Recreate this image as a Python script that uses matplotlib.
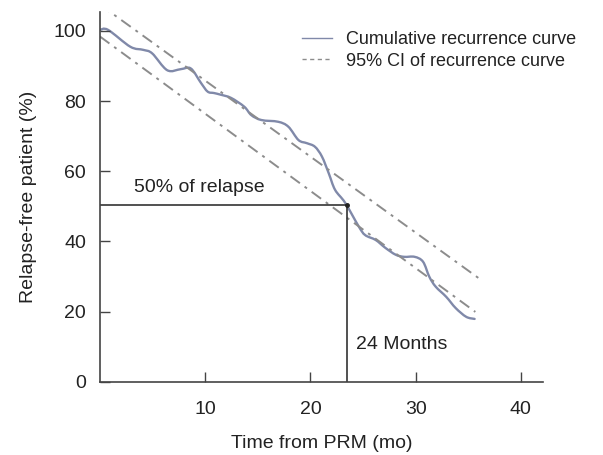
import matplotlib
matplotlib.use("Agg")
import matplotlib.pyplot as plt
from matplotlib.path import Path
from matplotlib.patches import PathPatch
from matplotlib.lines import Line2D

plt.rcParams['font.family'] = ['Liberation Sans', 'DejaVu Sans']

# Cumulative recurrence curve
curve_x = [0, 0.77, 2.88, 4.12, 4.96, 6.39, 7.67, 8.63, 9.59, 10.23, 10.83, 11.5,
           12.46, 13.71, 14.38, 15.34, 16.94, 17.9, 18.86, 19.66, 20.42, 21.09,
           21.74, 22.34, 23.3, 24.6, 25.2, 26.2, 27.1, 28.1, 28.9, 29.9, 30.7,
           31.3, 31.9, 32.9, 33.8, 34.8, 35.6]
curve_y = [100.3, 100.3, 95.5, 94.6, 93.6, 88.8, 89.1, 89.3, 85.2, 82.7, 82.3, 81.8,
           80.9, 78.4, 76.0, 74.6, 74.1, 72.7, 68.9, 68.0, 67.0, 64.2,
           59.4, 54.7, 51.0, 44.2, 41.8, 40.4, 38.2, 36.2, 35.6, 35.6, 34.2,
           29.9, 27.1, 24.2, 21.0, 18.5, 17.9]

# 95% CI lines (end points)
ci_upper_x = [0, 35.95]
ci_upper_y = [107.5, 29.6]
ci_lower_x = [0, 35.67]
ci_lower_y = [98.4, 19.9]

median_x = 23.45
median_y = 50.5

x_ticks = [10, 20, 30, 40]
y_ticks = [0, 20, 40, 60, 80, 100]

fig = plt.figure(figsize=(6.03, 4.55), dpi=100)
ax = fig.add_axes([100/603, 1-381.7/455, 443/603, (381.7-12)/455])

curve_color = '#8089a9'
ci_color = '#8c8c8c'
txt_color = '#222222'
ci_style = (0, (6, 3, 1.5, 3))


def smooth_path(xs, ys):
    """Catmull-Rom curve through the read points, drawn as cubic Beziers."""
    pts = list(zip(xs, ys))
    verts = [pts[0]]
    codes = [Path.MOVETO]
    n = len(pts)
    for i in range(n - 1):
        p0 = pts[i - 1] if i > 0 else pts[i]
        p1 = pts[i]
        p2 = pts[i + 1]
        p3 = pts[i + 2] if i + 2 < n else pts[i + 1]
        c1 = (p1[0] + (p2[0] - p0[0]) / 6.0, p1[1] + (p2[1] - p0[1]) / 6.0)
        c2 = (p2[0] - (p3[0] - p1[0]) / 6.0, p2[1] - (p3[1] - p1[1]) / 6.0)
        verts += [c1, c2, p2]
        codes += [Path.CURVE4] * 3
    return Path(verts, codes)


ax.add_patch(PathPatch(smooth_path(curve_x, curve_y), facecolor='none',
                       edgecolor=curve_color, lw=1.7, capstyle='round',
                       joinstyle='round'))
ax.plot(ci_upper_x, ci_upper_y, color=ci_color, lw=1.4, linestyle=ci_style)
ax.plot(ci_lower_x, ci_lower_y, color=ci_color, lw=1.4, linestyle=ci_style)

ax.plot([0, median_x], [median_y, median_y], color='#333333', lw=1.2)
ax.plot([median_x, median_x], [0, median_y], color='#333333', lw=1.2)
ax.plot([median_x], [median_y], marker='o', ms=2.5, color='#222222')

ax.text(3.2, 55.4, '50% of relapse', fontsize=14, color=txt_color,
        va='center', ha='left')
ax.text(24.35, 10.6, '24 Months', fontsize=14, color=txt_color,
        va='center', ha='left')

ax.set_xlim(0, 42.1)
ax.set_ylim(0, 105.4)
ax.set_xticks(x_ticks)
ax.set_yticks(y_ticks)
ax.tick_params(direction='in', length=7, width=1, colors='#444444',
               labelcolor=txt_color, labelsize=14)
ax.tick_params(axis='x', pad=14)
ax.tick_params(axis='y', pad=10)

for s in ['top', 'right']:
    ax.spines[s].set_visible(False)
for s in ['left', 'bottom']:
    ax.spines[s].set_color('#444444')
    ax.spines[s].set_linewidth(1.2)

ax.set_xlabel('Time from PRM (mo)', fontsize=14, color=txt_color, labelpad=12)
ax.set_ylabel('Relapse-free patient (%)', fontsize=14, color=txt_color, labelpad=12)

h1 = Line2D([], [], color=curve_color, lw=1.0)
h2 = Line2D([], [], color=ci_color, lw=1.0, linestyle=(0, (3, 2.5)))
leg = ax.legend(handles=[h1, h2],
                labels=['Cumulative recurrence curve', '95% CI of recurrence curve'],
                loc='upper left',
                bbox_to_anchor=(301.7/603, 1-31/455), bbox_transform=fig.transFigure,
                frameon=False, fontsize=13, handlelength=1.7, handletextpad=0.75,
                labelspacing=0.25, borderpad=0, borderaxespad=0)
for t in leg.get_texts():
    t.set_color(txt_color)

fig.savefig('out.png', dpi=100)
